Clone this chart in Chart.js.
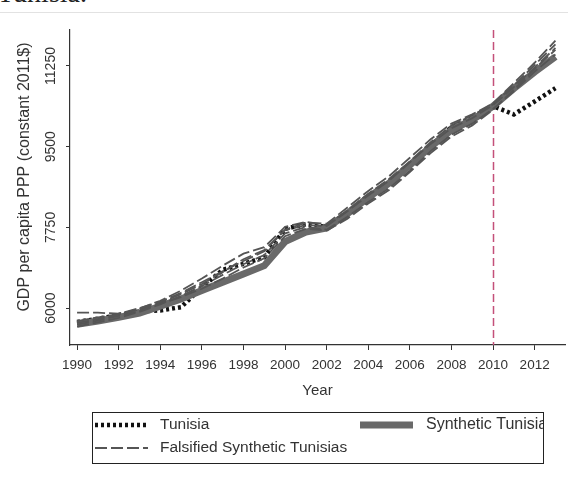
<!DOCTYPE html>
<html>
<head>
<meta charset="utf-8">
<script src="https://cdn.jsdelivr.net/npm/chart.js@4.4.1/dist/chart.umd.min.js"></script>
<style>
  html, body { margin: 0; padding: 0; background: #fff; overflow: hidden; }
  #page { position: relative; width: 568px; height: 480px; }
  #caption { position: absolute; left: -3px; top: -23px; font: 28px "Liberation Serif", "DejaVu Serif", serif; color: #222; }
  #rule { position: absolute; left: 0; top: 12px; width: 568px; height: 1px; background: #e2e2e2; }
  #chart { position: absolute; left: 0; top: 0; }
</style>
</head>
<body>
<div id="page">
  <div id="caption">Tunisia.</div>
  <div id="rule"></div>
  <canvas id="chart" width="568" height="480"></canvas>
</div>
<script>
const years = [1990, 1991, 1992, 1993, 1994, 1995, 1996, 1997, 1998, 1999, 2000, 2001,
               2002, 2003, 2004, 2005, 2006, 2007, 2008, 2009, 2010, 2011, 2012, 2013];

const tunisia = [5700, 5770, 5850, 5930, 5950, 6020, 6450, 6830, 6960, 7100, 7720, 7820,
                 7760, 8080, 8430, 8700, 9100, 9520, 9920, 10120, 10380, 10200, 10480, 10770];

const synthetic = [5650, 5720, 5800, 5890, 6040, 6200, 6380, 6560, 6740, 6920, 7440, 7650,
                   7740, 8050, 8400, 8710, 9100, 9500, 9860, 10080, 10380, 10760, 11120, 11450];

// placebo runs
const falsified1 = [5900, 5900, 5880, 6000, 6140, 6330, 6560, 6800, 7020, 7230, 7700, 7850,
                    7830, 8180, 8540, 8860, 9260, 9660, 10000, 10200, 10440, 10880, 11320, 11800];
const falsified2 = [5680, 5760, 5860, 5990, 6160, 6380, 6640, 6920, 7180, 7320, 7760, 7870,
                    7800, 8120, 8480, 8800, 9180, 9600, 9960, 10180, 10420, 10830, 11270, 11720];
const falsified3 = [5600, 5690, 5790, 5920, 6080, 6260, 6480, 6720, 6950, 7150, 7620, 7760,
                    7700, 7980, 8300, 8600, 8980, 9400, 9760, 10000, 10320, 10700, 11130, 11500];
const falsified4 = [5720, 5800, 5870, 5970, 6120, 6300, 6520, 6780, 7060, 7260, 7690, 7800,
                    7780, 8100, 8440, 8760, 9160, 9560, 9900, 10120, 10400, 10790, 11220, 11640];
const falsified5 = [5640, 5730, 5830, 5940, 6100, 6240, 6420, 6640, 6880, 7080, 7560, 7720,
                    7680, 7940, 8270, 8560, 8950, 9360, 9720, 9960, 10300, 10740, 11190, 11600];

const xTicks = [1990, 1992, 1994, 1996, 1998, 2000, 2002, 2004, 2006, 2008, 2010, 2012];
const yTicks = [6000, 7750, 9500, 11250];
const treatmentYear = 2010;

const FONT = '"Liberation Sans", Arial, sans-serif';
const TEXT = '#333';

const toPoints = vals => vals.map((v, i) => ({ x: years[i], y: v }));

const falsifiedStyle = {
    borderColor: '#555',
    borderWidth: 1.8,
    borderDash: [12, 4],
    order: 1
};

const datasets = [
    {
        label: 'Tunisia',
        data: toPoints(tunisia),
        borderColor: '#111',
        borderWidth: 4.5,
        borderDash: [3, 3],
        order: 3
    },
    {
        label: 'Synthetic Tunisia',
        data: toPoints(synthetic),
        borderColor: '#696969',
        borderWidth: 7,
        order: 2
    }
];
[falsified1, falsified2, falsified3, falsified4, falsified5].forEach((vals, i) => {
    datasets.push(Object.assign({ label: 'Falsified Synthetic Tunisias ' + (i + 1), data: toPoints(vals) }, falsifiedStyle));
});

const extras = {
    id: 'extras',
    beforeDatasetsDraw(chart) {
        const { ctx, chartArea, scales } = chart;
        const x = Math.round(scales.x.getPixelForValue(treatmentYear)) + 0.5;
        ctx.save();
        ctx.strokeStyle = '#c4507a';
        ctx.lineWidth = 1.5;
        ctx.setLineDash([8, 4]);
        ctx.beginPath();
        ctx.moveTo(x, chartArea.top);
        ctx.lineTo(x, chartArea.bottom);
        ctx.stroke();
        ctx.restore();
    },
    afterDraw(chart) {
        const { ctx, scales } = chart;
        ctx.save();
        ctx.fillStyle = TEXT;
        ctx.textAlign = 'center';
        ctx.textBaseline = 'middle';

        // y tick labels, rotated
        ctx.font = '14px ' + FONT;
        yTicks.forEach(v => {
            const y = scales.y.getPixelForValue(v);
            ctx.save();
            ctx.translate(51, y);
            ctx.rotate(-Math.PI / 2);
            ctx.fillText(String(v), 0, 0);
            ctx.restore();
        });

        // y title
        ctx.font = '16px ' + FONT;
        ctx.save();
        ctx.translate(25, 177);
        ctx.rotate(-Math.PI / 2);
        ctx.fillText('GDP per capita PPP (constant 2011$)', 0, 0);
        ctx.restore();

        // legend box
        const box = { left: 92, top: 412, right: 543, bottom: 463 };
        ctx.strokeStyle = '#222';
        ctx.lineWidth = 1;
        ctx.setLineDash([]);
        ctx.strokeRect(box.left + 0.5, box.top + 0.5, box.right - box.left, box.bottom - box.top);

        const ds = chart.data.datasets;
        const sample = (d, x0, x1, y) => {
            ctx.save();
            ctx.strokeStyle = d.borderColor;
            ctx.lineWidth = d.borderWidth;
            ctx.setLineDash(d.borderDash || []);
            ctx.beginPath();
            ctx.moveTo(x0, y);
            ctx.lineTo(x1, y);
            ctx.stroke();
            ctx.restore();
        };
        ctx.font = '15.5px ' + FONT;
        ctx.textAlign = 'left';
        sample(ds[0], 95, 148, 425);
        ctx.fillText('Tunisia', 160, 425);
        sample(ds[1], 360, 413, 425);
        ctx.save();
        ctx.beginPath();
        ctx.rect(box.left, box.top, box.right - box.left, box.bottom - box.top);
        ctx.clip();
        ctx.font = '16px ' + FONT;
        ctx.fillText('Synthetic Tunisia', 426, 425);
        ctx.restore();
        sample(ds[2], 95, 148, 448);
        ctx.fillText('Falsified Synthetic Tunisias', 160, 448);
        ctx.restore();
    }
};

new Chart(document.getElementById('chart'), {
    type: 'line',
    data: { datasets: datasets },
    options: {
        responsive: false,
        animation: false,
        layout: { padding: { top: 30, right: 3, bottom: 80, left: 0 } },
        elements: {
            point: { radius: 0 },
            line: { tension: 0, fill: false, borderCapStyle: 'butt' }
        },
        plugins: {
            legend: { display: false },
            tooltip: { enabled: false }
        },
        scales: {
            x: {
                type: 'linear',
                min: 1989.66,
                max: 2013.46,
                afterBuildTicks: s => { s.ticks = xTicks.map(v => ({ value: v })); },
                afterFit: s => { s.height = 55; },
                ticks: {
                    color: TEXT,
                    font: { family: FONT, size: 13.5 },
                    padding: 7,
                    maxRotation: 0,
                    autoSkip: false,
                    callback: v => String(v)
                },
                grid: { drawOnChartArea: false, drawTicks: true, tickLength: 5, tickColor: '#333' },
                border: { display: true, color: '#333', width: 1.2 },
                title: {
                    display: true,
                    text: 'Year',
                    color: TEXT,
                    font: { family: FONT, size: 15 },
                    padding: { top: 0, bottom: 0 }
                }
            },
            y: {
                min: 5200,
                max: 12030,
                afterBuildTicks: s => { s.ticks = yTicks.map(v => ({ value: v })); },
                afterFit: s => { s.width = 70; },
                ticks: { display: false },
                grid: { drawOnChartArea: false, drawTicks: true, tickLength: 4, tickColor: '#333' },
                border: { display: true, color: '#333', width: 1.2 }
            }
        }
    },
    plugins: [extras]
});
</script>
</body>
</html>
